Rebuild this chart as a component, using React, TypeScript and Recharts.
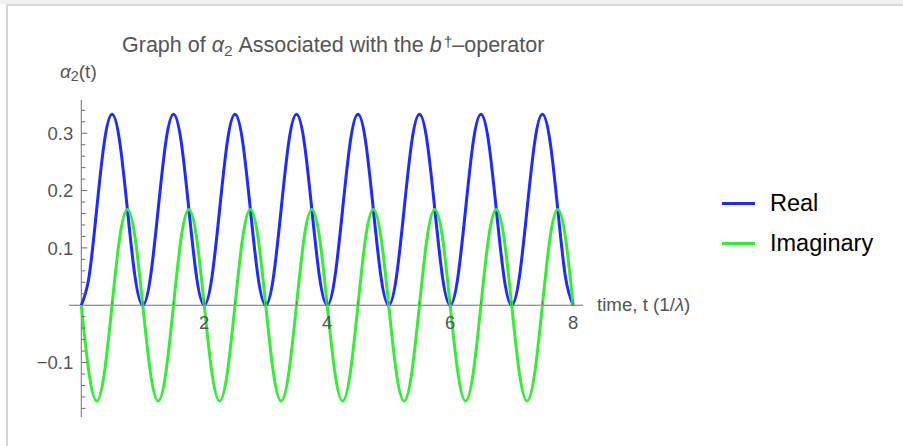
import React from "react";
import { LineChart, Line, XAxis, YAxis, ReferenceLine, Legend } from "recharts";

// sampled every 1/8 of a time unit
const times = [
  0, 0.125, 0.25, 0.375, 0.5, 0.625, 0.75, 0.875,
  1, 1.125, 1.25, 1.375, 1.5, 1.625, 1.75, 1.875,
  2, 2.125, 2.25, 2.375, 2.5, 2.625, 2.75, 2.875,
  3, 3.125, 3.25, 3.375, 3.5, 3.625, 3.75, 3.875,
  4, 4.125, 4.25, 4.375, 4.5, 4.625, 4.75, 4.875,
  5, 5.125, 5.25, 5.375, 5.5, 5.625, 5.75, 5.875,
  6, 6.125, 6.25, 6.375, 6.5, 6.625, 6.75, 6.875,
  7, 7.125, 7.25, 7.375, 7.5, 7.625, 7.75, 7.875,
  8,
];

const realPart = [
  0, 0.049, 0.167, 0.285, 0.333, 0.285, 0.167, 0.049,
  0, 0.049, 0.167, 0.285, 0.333, 0.285, 0.167, 0.049,
  0, 0.049, 0.167, 0.285, 0.333, 0.285, 0.167, 0.049,
  0, 0.049, 0.167, 0.285, 0.333, 0.285, 0.167, 0.049,
  0, 0.049, 0.167, 0.285, 0.333, 0.285, 0.167, 0.049,
  0, 0.049, 0.167, 0.285, 0.333, 0.285, 0.167, 0.049,
  0, 0.049, 0.167, 0.285, 0.333, 0.285, 0.167, 0.049,
  0, 0.049, 0.167, 0.285, 0.333, 0.285, 0.167, 0.049,
  0,
];

const imagPart = [
  0, -0.118, -0.167, -0.118, 0, 0.118, 0.167, 0.118,
  0, -0.118, -0.167, -0.118, 0, 0.118, 0.167, 0.118,
  0, -0.118, -0.167, -0.118, 0, 0.118, 0.167, 0.118,
  0, -0.118, -0.167, -0.118, 0, 0.118, 0.167, 0.118,
  0, -0.118, -0.167, -0.118, 0, 0.118, 0.167, 0.118,
  0, -0.118, -0.167, -0.118, 0, 0.118, 0.167, 0.118,
  0, -0.118, -0.167, -0.118, 0, 0.118, 0.167, 0.118,
  0, -0.118, -0.167, -0.118, 0, 0.118, 0.167, 0.118,
  0,
];

const xTicks = [0.5, 1, 1.5, 2, 2.5, 3, 3.5, 4, 4.5, 5, 5.5, 6, 6.5, 7, 7.5, 8];
const xLabelled = [2, 4, 6, 8];
const yTicks = [
  -0.18, -0.16, -0.14, -0.12, -0.1, -0.08, -0.06, -0.04, -0.02,
  0.02, 0.04, 0.06, 0.08, 0.1, 0.12, 0.14, 0.16, 0.18, 0.2,
  0.22, 0.24, 0.26, 0.28, 0.3, 0.32, 0.34,
];
const yLabelled = [-0.1, 0.1, 0.2, 0.3];

const seriesNames = ["Real", "Imaginary"];
const seriesColors = ["#1c2bff", "#33ee33"];

const data = times.map((t, i) => ({ t, real: realPart[i], imag: imagPart[i] }));

const W = 903;
const H = 446;
const PLOT_LEFT = 69;
const PLOT_TOP = 100;
const PLOT_W = 514;
const PLOT_H = 317;
const X_MIN = -0.2;
const X_MAX = 8.16;
const Y_MIN = -0.195;
const Y_MAX = 0.358;
const Y_AXIS_W = 20;
const X_AXIS_H = 20;

const ZERO_X = PLOT_LEFT + ((0 - X_MIN) / (X_MAX - X_MIN)) * PLOT_W;
const ZERO_Y = PLOT_TOP + ((Y_MAX - 0) / (Y_MAX - Y_MIN)) * PLOT_H;

const FONT = "'Liberation Sans', Arial, Helvetica, sans-serif";
const AXIS = "#6f6f6f";
const LABEL = "#555";

const near = (a: number, list: number[]) => list.some((b) => Math.abs(a - b) < 1e-9);

const fmtY = (v: number) => (v < 0 ? "\u2212" + String(-v) : String(v));

const YTick = (props: any) => {
  const { y, payload } = props;
  const v = payload.value as number;
  const major = near(v, yLabelled);
  return (
    <g>
      <line x1={ZERO_X} x2={ZERO_X + (major ? 6 : 4)} y1={y} y2={y} stroke={AXIS} strokeWidth={1} />
      {major && (
        <text x={ZERO_X - 8} y={y} dy="0.36em" textAnchor="end" fontSize={18.5} fill={LABEL} fontFamily={FONT}>
          {fmtY(v)}
        </text>
      )}
    </g>
  );
};

const XTick = (props: any) => {
  const { x, payload } = props;
  const v = payload.value as number;
  const major = near(v, xLabelled);
  return (
    <g>
      <line x1={x} x2={x} y1={ZERO_Y} y2={ZERO_Y - (major ? 6 : 4)} stroke={AXIS} strokeWidth={1} />
      {major && (
        <text x={x} y={ZERO_Y + 24} textAnchor="middle" fontSize={18.5} fill={LABEL} fontFamily={FONT}>
          {v}
        </text>
      )}
    </g>
  );
};

const LegendBox = () => (
  <div style={{ fontFamily: FONT, fontSize: 23.5, color: "#000" }}>
    {seriesNames.map((name, i) => (
      <div key={name} style={{ display: "flex", alignItems: "center", height: 40 }}>
        <div style={{ width: 33, height: 3, background: seriesColors[i], marginRight: 15 }} />
        <span>{name}</span>
      </div>
    ))}
  </div>
);

export default function App() {
  return (
    <div style={{ position: "absolute", left: 0, top: 0, width: W, height: H, background: "#fff", overflow: "hidden" }}>
      <div style={{ position: "absolute", left: 0, top: 0, width: W, height: 4, background: "#f1f1f1" }} />
      <div style={{ position: "absolute", left: 6, top: 4, width: W - 6, height: 2, background: "#d8d8d8" }} />
      <div style={{ position: "absolute", left: 6, top: 4, width: 2, height: H - 4, background: "#d8d8d8" }} />

      <div
        style={{
          position: "absolute",
          left: 122,
          top: 33,
          fontFamily: FONT,
          fontSize: 21.5,
          color: LABEL,
          whiteSpace: "nowrap",
        }}
      >
        Graph of <i>α</i>
        <span style={{ fontSize: "0.72em", verticalAlign: "-0.25em" }}>2</span> Associated with the <i>b</i>
        <span style={{ fontSize: "0.72em", verticalAlign: "0.35em", marginLeft: 2 }}>†</span>–operator
      </div>

      <div
        style={{ position: "absolute", left: 60, top: 61, fontFamily: FONT, fontSize: 19, color: LABEL, whiteSpace: "nowrap" }}
      >
        <i>α</i>
        <span style={{ fontSize: "0.75em", verticalAlign: "-0.2em" }}>2</span>(t)
      </div>

      <div
        style={{ position: "absolute", left: 597, top: 294, fontFamily: FONT, fontSize: 18.7, color: LABEL, whiteSpace: "nowrap" }}
      >
        time, t (1/<i>λ</i>)
      </div>

      <div style={{ position: "absolute", left: 0, top: 0 }}>
        <LineChart
          width={W}
          height={H}
          data={data}
          margin={{
            top: PLOT_TOP,
            right: W - PLOT_LEFT - PLOT_W,
            left: PLOT_LEFT - Y_AXIS_W,
            bottom: H - PLOT_TOP - PLOT_H - X_AXIS_H,
          }}
        >
          <XAxis
            dataKey="t"
            type="number"
            domain={[X_MIN, X_MAX]}
            ticks={xTicks}
            interval={0}
            allowDataOverflow
            axisLine={false}
            tickLine={false}
            height={X_AXIS_H}
            tick={<XTick />}
          />
          <YAxis
            type="number"
            domain={[Y_MIN, Y_MAX]}
            ticks={yTicks}
            interval={0}
            allowDataOverflow
            axisLine={false}
            tickLine={false}
            width={Y_AXIS_W}
            tick={<YTick />}
          />
          <ReferenceLine y={0} stroke={AXIS} strokeWidth={1} />
          <ReferenceLine x={0} stroke={AXIS} strokeWidth={1} />
          <Line
            type="natural"
            dataKey="real"
            name={seriesNames[0]}
            stroke={seriesColors[0]}
            strokeWidth={3}
            dot={false}
            activeDot={false}
            isAnimationActive={false}
          />
          <Line
            type="natural"
            dataKey="imag"
            name={seriesNames[1]}
            stroke={seriesColors[1]}
            strokeWidth={3}
            dot={false}
            activeDot={false}
            isAnimationActive={false}
          />
          <Legend
            layout="vertical"
            align="center"
            verticalAlign="middle"
            wrapperStyle={{ left: 722, top: 183, width: 175 }}
            content={<LegendBox />}
          />
        </LineChart>
      </div>
    </div>
  );
}
